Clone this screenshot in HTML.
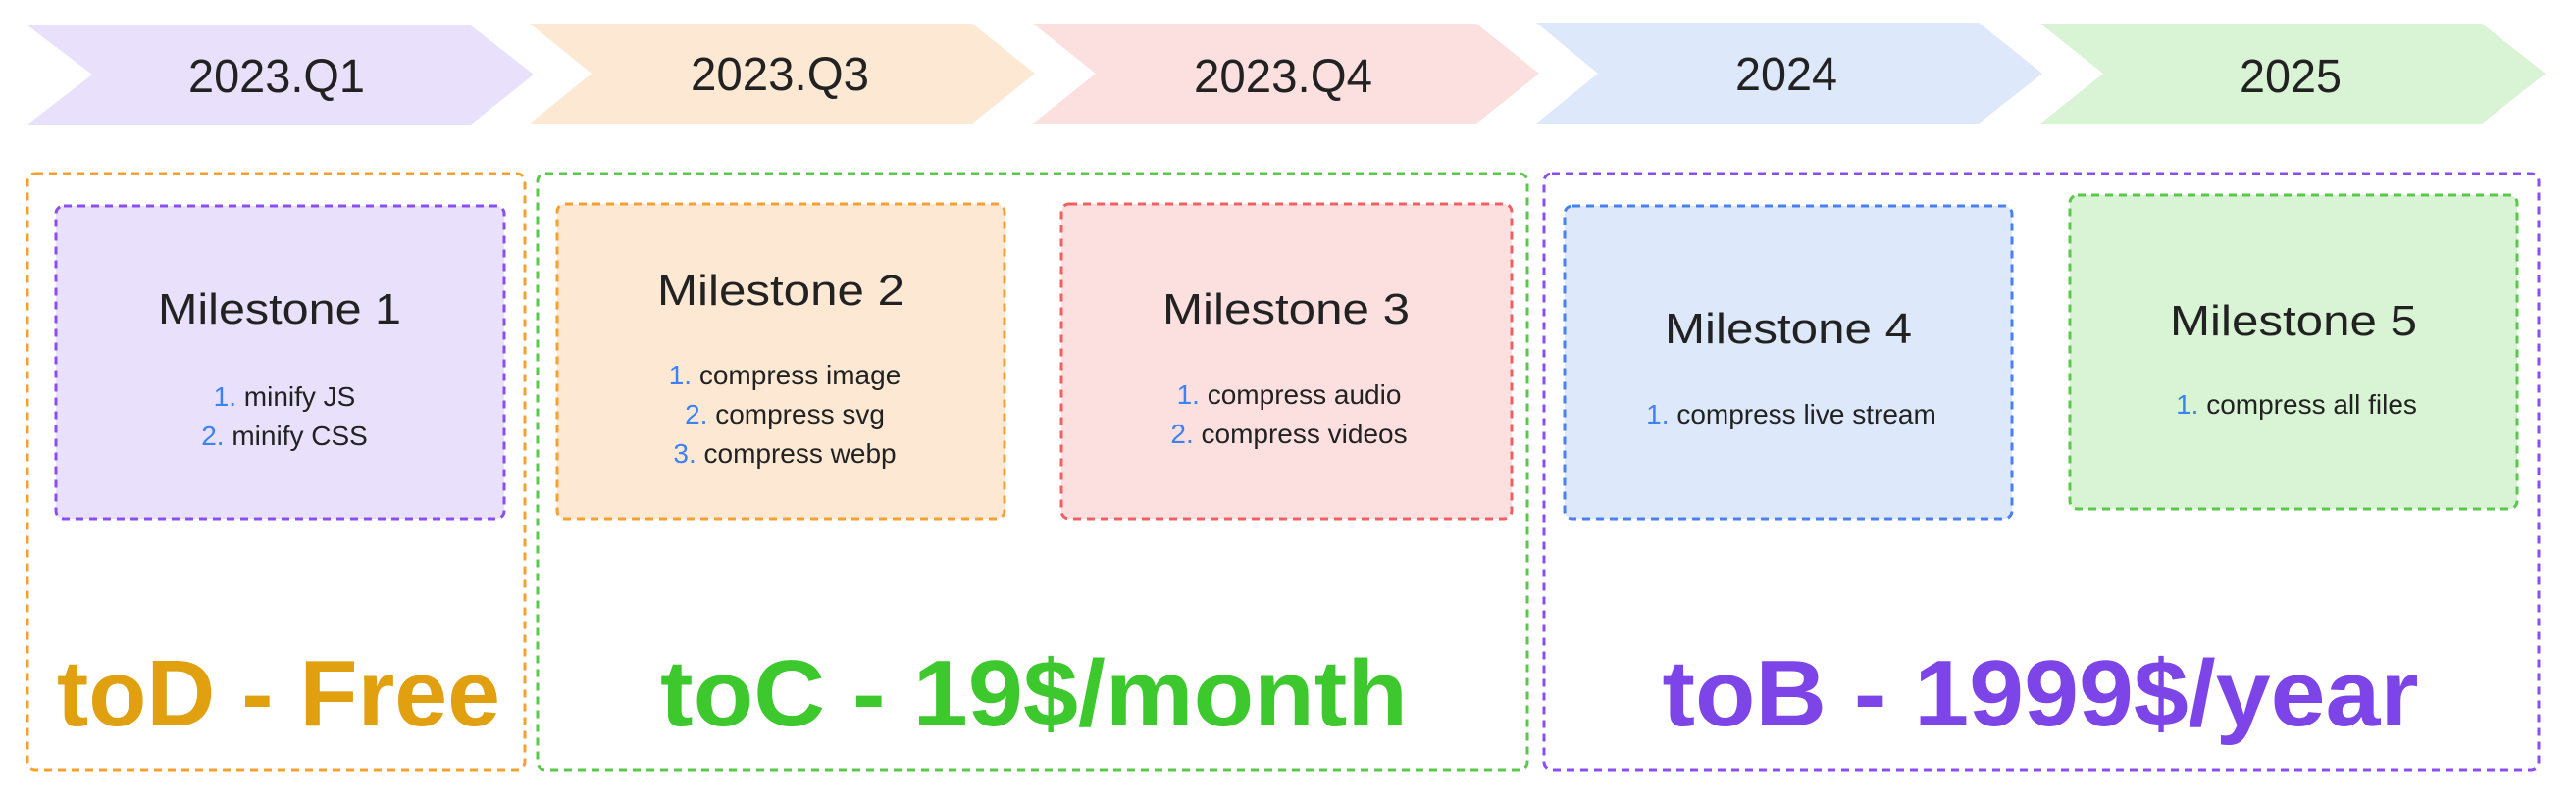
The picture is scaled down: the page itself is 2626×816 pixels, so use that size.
<!DOCTYPE html>
<html><head><meta charset="utf-8"><style>html,body{margin:0;padding:0;background:#fff}svg{display:block}</style></head>
<body>
<svg width="2626" height="816" viewBox="0 0 2626 816" xmlns="http://www.w3.org/2000/svg" font-family="Liberation Sans, sans-serif">
<rect width="2626" height="816" fill="#fff"/>
<polygon points="28,26 480,26 544,76 480,127 28,127 94,76" fill="#e9e0fb"/>
<polygon points="540,24 991,24 1055,75 991,126 540,126 603,75" fill="#fde9d3"/>
<polygon points="1053,24 1505,24 1569,75 1505,126 1053,126 1117,75" fill="#fbe0df"/>
<polygon points="1566,23 2017,23 2082,75 2017,126 1566,126 1629,75" fill="#dde8fb"/>
<polygon points="2080,24 2530,24 2595,75 2530,126 2080,126 2144,75" fill="#d9f3d5"/>
<g font-size="48" fill="#222" text-anchor="middle">
<text x="282" y="94" textLength="180" lengthAdjust="spacingAndGlyphs">2023.Q1</text>
<text x="795" y="92" textLength="182" lengthAdjust="spacingAndGlyphs">2023.Q3</text>
<text x="1308" y="94" textLength="182" lengthAdjust="spacingAndGlyphs">2023.Q4</text>
<text x="1821" y="92" textLength="104" lengthAdjust="spacingAndGlyphs">2024</text>
<text x="2335" y="94" textLength="104" lengthAdjust="spacingAndGlyphs">2025</text>
</g>
<g fill="none" stroke-width="3" stroke-dasharray="8 6">
<rect x="28" y="177" width="507" height="608" rx="8" stroke="#f5a030"/>
<rect x="548" y="177" width="1009" height="608" rx="8" stroke="#5ac84a"/>
<rect x="1574" y="177" width="1014" height="608" rx="8" stroke="#8b4ff0"/>
</g>
<g stroke-width="3" stroke-dasharray="8 6">
<rect x="57" y="210" width="457" height="319" rx="8" fill="#e9e0fb" stroke="#8b4ff0"/>
<rect x="568" y="208" width="456" height="321" rx="8" fill="#fde9d3" stroke="#f5a030"/>
<rect x="1082" y="208" width="459" height="321" rx="8" fill="#fbe0df" stroke="#f06060"/>
<rect x="1595" y="210" width="456" height="319" rx="8" fill="#dde8fb" stroke="#4a80f0"/>
<rect x="2110" y="199" width="456" height="320" rx="8" fill="#d9f3d5" stroke="#5ac84a"/>
</g>
<g font-size="44" fill="#222" text-anchor="middle">
<text x="285" y="330" textLength="248" lengthAdjust="spacingAndGlyphs">Milestone 1</text>
<text x="796" y="311" textLength="252" lengthAdjust="spacingAndGlyphs">Milestone 2</text>
<text x="1311" y="330" textLength="252" lengthAdjust="spacingAndGlyphs">Milestone 3</text>
<text x="1823" y="350" textLength="252" lengthAdjust="spacingAndGlyphs">Milestone 4</text>
<text x="2338" y="342" textLength="252" lengthAdjust="spacingAndGlyphs">Milestone 5</text>
</g>
<g font-size="28" fill="#222" text-anchor="middle">
<text x="290" y="414"><tspan fill="#3b82f6">1. </tspan>minify JS</text>
<text x="290" y="454"><tspan fill="#3b82f6">2. </tspan>minify CSS</text>
<text x="800" y="392"><tspan fill="#3b82f6">1. </tspan>compress image</text>
<text x="800" y="432"><tspan fill="#3b82f6">2. </tspan>compress svg</text>
<text x="800" y="472"><tspan fill="#3b82f6">3. </tspan>compress webp</text>
<text x="1314" y="412"><tspan fill="#3b82f6">1. </tspan>compress audio</text>
<text x="1314" y="452"><tspan fill="#3b82f6">2. </tspan>compress videos</text>
<text x="1826" y="432"><tspan fill="#3b82f6">1. </tspan>compress live stream</text>
<text x="2341" y="422"><tspan fill="#3b82f6">1. </tspan>compress all files</text>
</g>
<g font-size="96" font-weight="bold" text-anchor="middle">
<text x="284" y="740" fill="#e0a010" textLength="452" lengthAdjust="spacingAndGlyphs">toD - Free</text>
<text x="1054" y="740" fill="#3dc82d" textLength="762" lengthAdjust="spacingAndGlyphs">toC - 19$/month</text>
<text x="2080" y="740" fill="#7d44e8" textLength="771" lengthAdjust="spacingAndGlyphs">toB - 1999$/year</text>
</g>
</svg>
</body></html>
